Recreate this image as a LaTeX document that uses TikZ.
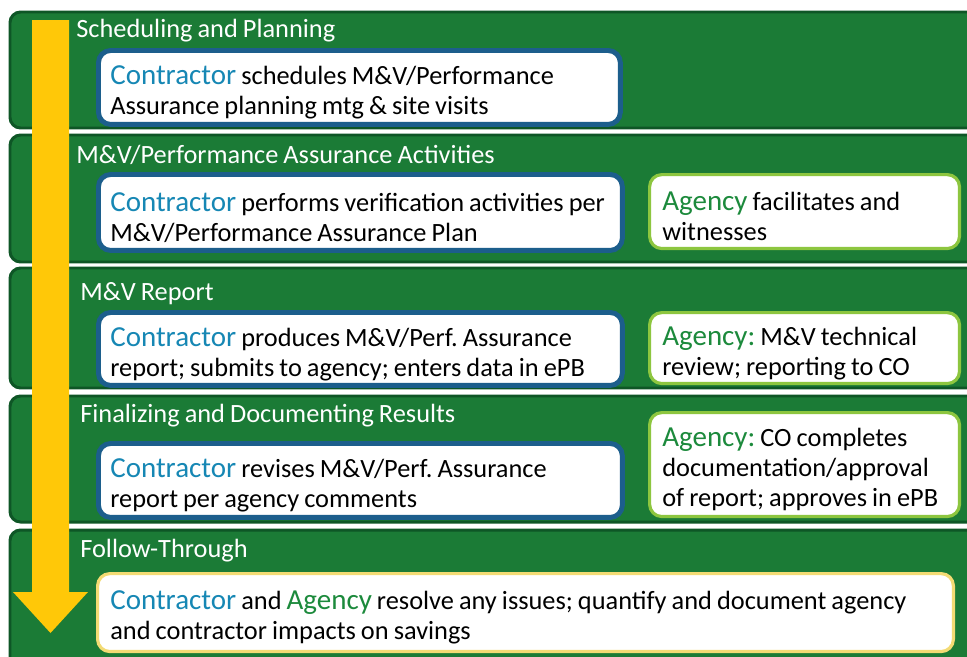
\documentclass[tikz,border=0pt]{standalone}
\usepackage{fontspec}
\setmainfont{Carlito}[WordSpace=0.85]
\frenchspacing

\definecolor{bandfill}{HTML}{1B7B36}
\definecolor{bandedge}{HTML}{0E5626}
\definecolor{conblue}{HTML}{1C5E8C}
\definecolor{contxt}{HTML}{1687B4}
\definecolor{agtxt}{HTML}{1C8A3C}
\definecolor{agedge}{HTML}{8DC63F}
\definecolor{fuedge}{HTML}{F3DB74}
\definecolor{arrowy}{HTML}{FFC808}

\tikzset{
    band/.style={draw=bandedge, fill=bandfill, line width=1.7pt, rounded corners=6pt},
    conbox/.style={draw=conblue, fill=white, line width=2.8pt, rounded corners=7pt,
        anchor=north west, inner sep=0pt},
    agbox/.style={conbox, draw=agedge, line width=1.8pt},
    fubox/.style={conbox, draw=fuedge, line width=1.8pt},
    boxtext/.style={anchor=west, align=left, inner sep=0pt,
        font=\fontsize{15}{17}\selectfont},
    title/.style={text=white, anchor=west, inner sep=0pt, font=\fontsize{15}{16}\selectfont}
}
\newcommand{\contr}{{\fontsize{16.5}{17}\selectfont\color{contxt}Contractor}}
\newcommand{\agcy}[1][]{{\fontsize{16.5}{17}\selectfont\color{agtxt}Agency#1}}

\begin{document}
\begin{tikzpicture}[x=0.02cm, y=-0.02cm]
    \clip (0,0) rectangle (967,656);
    \fill[white] (0,0) rectangle (967,656);

    % phase bands
    \draw[band] (10,12) rectangle (990,128);
    \draw[band] (10,135) rectangle (990,262);
    \draw[band] (10,268) rectangle (990,388);
    \draw[band] (10,396) rectangle (990,522);
    \draw[band] (10,530) rectangle (990,680);

    % flow arrow
    \fill[arrowy] (32,20) -- (69,20) -- (69,592) -- (88,592)
        -- (50.5,633) -- (13,592) -- (32,592) -- cycle;

    % titles
    \node[title] (t1) at (76,31) {Scheduling and Planning};
    \node[title] (t2) at (76,155) {M\&V/Performance Assurance Activities};
    \node[title] (t3) at (80,294) {M\&V Report};
    \node[title] (t4) at (80,416) {Finalizing and Documenting Results};
    \node[title] (t5) at (80,551) {Follow-Through};

    % contractor boxes
    \node[conbox, minimum width=10.44cm, minimum height=1.48cm] (c1) at (96,48) {};
    \node[conbox, minimum width=10.48cm, minimum height=1.52cm] (c2) at (96,172) {};
    \node[conbox, minimum width=10.48cm, minimum height=1.46cm] (c3) at (96,310) {};
    \node[conbox, minimum width=10.48cm, minimum height=1.48cm] (c4) at (96,441) {};

    % agency boxes
    \node[agbox, minimum width=6.2cm, minimum height=1.48cm] (a2) at (648,173) {};
    \node[agbox, minimum width=6.2cm, minimum height=1.42cm] (a3) at (648,311) {};
    \node[agbox, minimum width=6.2cm, minimum height=2.08cm] (a4) at (648,411) {};

    % joint box
    \node[fubox, minimum width=17.12cm, minimum height=1.56cm] (j5) at (96,572) {};

    % box texts
    \node[boxtext] (c1t) at ([xshift=0.28cm,yshift=-0.1cm]c1.west)
        {\contr{} schedules M\&V/Performance\\Assurance planning mtg \& site visits};
    \node[boxtext] (c2t) at ([xshift=0.28cm,yshift=-0.1cm]c2.west)
        {\contr{} performs verification activities per\\M\&V/Performance Assurance Plan};
    \node[boxtext] (c3t) at ([xshift=0.28cm,yshift=-0.1cm]c3.west)
        {\contr{} produces M\&V/Perf. Assurance\\report; submits to agency; enters data in ePB};
    \node[boxtext] (c4t) at ([xshift=0.28cm,yshift=-0.1cm]c4.west)
        {\contr{} revises M\&V/Perf. Assurance\\report per agency comments};
    \node[boxtext] (a2t) at ([xshift=0.28cm,yshift=-0.1cm]a2.west)
        {\agcy{} facilitates and\\witnesses};
    \node[boxtext] (a3t) at ([xshift=0.28cm,yshift=-0.1cm]a3.west)
        {\agcy[:] M\&V technical\\review; reporting to CO};
    \node[boxtext] (a4t) at ([xshift=0.28cm,yshift=-0.1cm]a4.west)
        {\agcy[:] CO completes\\documentation/approval\\of report; approves in ePB};
    \node[boxtext] (j5t) at ([xshift=0.28cm,yshift=-0.1cm]j5.west)
        {\contr{} and \agcy{} resolve any issues; quantify and document agency\\and contractor impacts on savings};
\end{tikzpicture}
\end{document}
